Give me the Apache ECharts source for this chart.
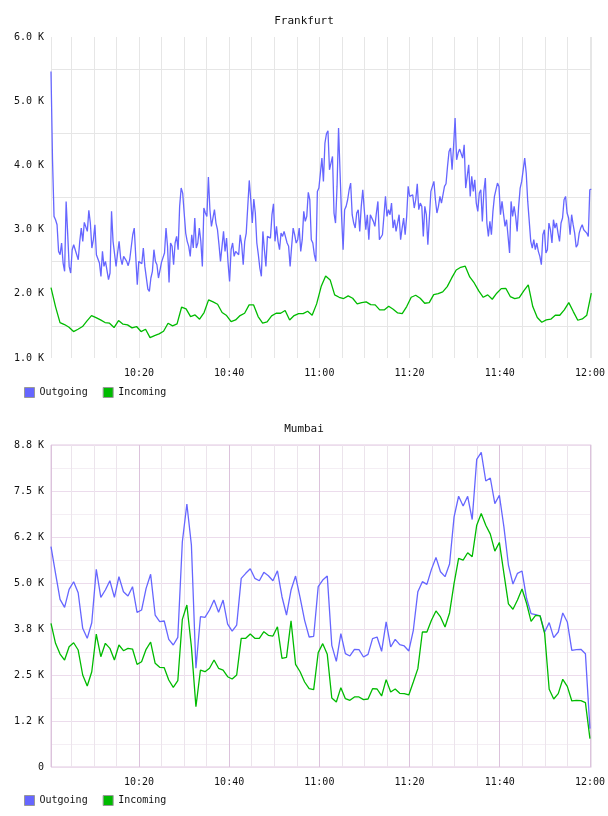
<!DOCTYPE html>
<html>
<head>
<meta charset="utf-8">
<title>Frankfurt / Mumbai traffic</title>
<script src="https://cdn.jsdelivr.net/npm/echarts@6/dist/echarts.min.js"></script>
<style>
  html, body { margin: 0; padding: 0; background: #fff; }
  #chart { width: 608px; height: 816px; }
</style>
</head>
<body>
<div id="chart"></div>
<script>
// times are minutes after 10:00
const seriesNames = ['Outgoing', 'Incoming']
const sampleStart = 0.5
const sampleEnd = 120.3

const frankfurtOutgoing = [
  5463, 4088, 3206, 3154, 3076, 2661, 2609, 2791, 2479, 2350,
  3439, 2946, 2427, 2324, 2687, 2765, 2739, 2609, 2531, 2817,
  3024, 2817, 3112, 3102, 2972, 3299, 3102, 2713, 2843, 3076,
  2609, 2609, 2479, 2272, 2661, 2427, 2505, 2479, 2220, 2324,
  3284, 2817, 2817, 2427, 2635, 2817, 2557, 2453, 2583, 2557,
  2505, 2438, 2531, 2531, 2920, 3024, 2583, 2142, 2505, 2531,
  2469, 2713, 2427, 2427, 2074, 2038, 2246, 2350, 2687, 2505,
  2453, 2246, 2365, 2490, 2505, 2635, 3024, 2739, 2178, 2791,
  2739, 2453, 2791, 2894, 2687, 3362, 3647, 3569,
  3258, 2946, 2817, 2739, 2583, 2920, 2713, 3180, 2713, 2791,
  3024, 2817, 2427, 3336, 3258, 3206, 3818, 3310, 3050, 3076,
  3310, 3102, 2998, 2765, 2505, 2505, 2972, 2661, 2868, 2479,
  2194, 2687, 2791, 2583, 2661, 2661, 2609, 2920, 2765, 2453,
  2817, 2946, 2972, 3766, 3465, 3102, 3476, 3258, 2791, 2609,
  2401, 2272, 2972, 2687, 2427, 2894, 2920, 2868, 3232, 3403,
  2817, 3050, 2817, 2687, 2946, 2894, 2972, 2946, 2791, 2739,
  2427, 2739, 3024, 2920, 2791, 2843, 3024, 2661, 2843, 3284,
  3128, 3206, 3580, 3465, 2843, 2791, 2609, 2505, 3595, 3647,
  3647, 4114,
  3751, 4348, 4493, 4540, 3932, 4036, 4140, 3258, 3102, 3673,
  4581, 3881, 3206, 2687, 3310, 3362, 3465, 3621, 3725, 3232,
  3102, 3024, 3258, 3310, 2972, 3362, 3621, 3310, 2998, 3232,
  2843, 3232, 3258, 3128, 3050, 3258, 3439, 2843, 2817, 2920,
  2946, 3517, 3206, 3310, 3232, 3413, 3024, 3154, 2972, 3102,
  3232, 2843, 3024, 3180, 2920, 3206, 3673, 3517, 3517, 3543,
  3336, 3465, 3714, 3310, 3413, 3362, 2894, 3362, 3232, 2765,
  3180, 3595, 3673, 3751, 3465, 3258, 3362, 3517, 3413, 3387,
  3673, 3714, 3984, 4218, 4270, 3932, 4296, 4737, 4088, 4192,
  4254,
  4270, 4114, 4322, 3647, 3829, 4010, 3517, 3829, 3595, 3777,
  3413, 3284, 3569, 3621, 3128, 3595, 3803, 3102, 2894, 3128,
  2920, 3284, 3517, 3517, 3725, 3673, 3232, 3439, 3413, 3050,
  3154, 2894, 2635, 3439, 3206, 3362, 3206, 2972, 3362, 3647,
  3751, 3766, 4114, 3881, 3439, 3128, 2817, 2713, 2843, 2687,
  2791, 2661, 2583, 2453, 2920, 2998, 2635, 2687, 3102, 2998,
  2791, 3154, 3024, 3102, 2946, 2817, 3102, 3180, 3465, 3517,
  3258, 3180, 2920, 3232, 3076, 2946, 2728, 2765, 2946, 3024,
  3076, 2998, 2972, 2946, 2894, 3621, 3631
]

const frankfurtIncoming = [
  2097, 1801, 1552, 1521, 1479, 1412, 1448, 1490, 1578, 1661,
  1630, 1593, 1552, 1542, 1474, 1583, 1526, 1516, 1469, 1490,
  1412, 1448, 1318, 1349, 1375, 1417, 1542, 1500, 1531, 1791,
  1765, 1645, 1671, 1604, 1708, 1905, 1874, 1837, 1708, 1661,
  1568, 1593, 1661, 1697, 1827, 1827, 1645, 1542, 1562, 1656,
  1697, 1697, 1739, 1593, 1661, 1692, 1692, 1728, 1666, 1843,
  2112, 2276, 2216, 1983, 1946, 1926, 1967, 1931, 1843, 1863,
  1874, 1832, 1827, 1749, 1749, 1806, 1760, 1702, 1692, 1801,
  1946, 1977, 1931, 1853, 1863, 1988, 2003, 2029, 2112, 2247,
  2371, 2413, 2430, 2262, 2169, 2045, 1946, 1983, 1915, 2009,
  2081, 2086, 1957, 1926, 1941, 2045, 2138, 1801, 1630, 1557,
  1593, 1604, 1666, 1666, 1749, 1863, 1723, 1588, 1609, 1666,
  2009
]

const mumbaiOutgoing = [
  5986, 5263, 4556, 4339, 4828, 5035, 4736, 3768, 3497, 3921,
  5371, 4611, 4809, 5062, 4611, 5170, 4763, 4646, 4899, 4203,
  4266, 4855, 5236, 4130, 3948, 3967, 3470, 3315, 3524, 6122,
  7146, 6032, 2682, 4084, 4067, 4266, 4537, 4203, 4537, 3885,
  3695, 3858, 5127, 5263, 5388, 5127, 5062, 5290, 5198, 5062,
  5333, 4627, 4130, 4809, 5189, 4600, 3986, 3533, 3552, 4900,
  5081, 5190, 3307, 2872, 3624, 3081, 3017, 3198, 3189, 2990,
  3062, 3488, 3533, 3144, 3941, 3262, 3470, 3325, 3289, 3153,
  3715, 4765, 5036, 4964, 5370, 5695, 5307, 5172, 5515, 6797,
  7357, 7095, 7357, 6725, 8359, 8549, 7772, 7853, 7158, 7384,
  6526, 5488, 4973, 5262, 5325, 4585, 4168, 4140, 4104, 3669,
  3923, 3515, 3669, 4186, 3941, 3171, 3189, 3198, 3080, 1042
]

const mumbaiIncoming = [
  3904, 3361, 3070, 2907, 3269, 3377, 3179, 2500, 2201, 2589,
  3614, 2997, 3361, 3225, 2907, 3315, 3160, 3225, 3206, 2790,
  2861, 3198, 3396, 2818, 2709, 2698, 2364, 2165, 2345, 4013,
  4402, 3269, 1638, 2635, 2589, 2682, 2907, 2682, 2635, 2453,
  2391, 2500, 3497, 3497, 3614, 3497, 3497, 3676, 3578, 3559,
  3812, 2953, 2981, 3975, 2790, 2589, 2310, 2129, 2102, 3108,
  3352, 3062, 1875, 1767, 2156, 1857, 1812, 1903, 1903, 1830,
  1848, 2129, 2120, 1930, 2374, 2039, 2120, 2002, 1993, 1957,
  2310, 2673, 3669, 3669, 3986, 4240, 4077, 3805, 4186, 4991,
  5668, 5623, 5822, 5713, 6571, 6887, 6571, 6327, 5867, 6102,
  5262, 4431, 4287, 4539, 4837, 4449, 3959, 4122, 4104, 3624,
  2111, 1848, 1993, 2383, 2192, 1794, 1812, 1803, 1749, 770
]

const mumbaiTickLabels = ['0', '1.2 K', '2.5 K', '3.8 K', '5.0 K', '6.2 K', '7.5 K', '8.8 K']

const outColor = '#6666ff'
const inColor = '#00bb00'
const font = 'DejaVu Sans Mono'

const toPoints = (values, t0, t1, endShort) => {
  const last = t1 - (endShort || 0)
  return values.map((v, i) => [t0 + i * (last - t0) / (values.length - 1), v])
}

const timeLabel = m => {
  const r = Math.round(m)
  if (Math.abs(m - r) > 1e-6 || r % 20 !== 0) return ''
  const h = 10 + Math.floor(r / 60)
  const mm = r % 60
  return h + ':' + (mm < 10 ? '0' : '') + mm
}

const chart = echarts.init(document.getElementById('chart'), null, { renderer: 'canvas' })

const xAxisBase = (gridIndex, splitColors) => ({
  type: 'value',
  gridIndex,
  min: 0.5,
  max: 120.3,
  minInterval: 5,
  maxInterval: 5,
  axisLine: { show: false },
  axisTick: { show: false },
  axisLabel: {
    formatter: timeLabel,
    color: '#111',
    fontFamily: font,
    fontSize: 10,
    margin: 10,
    showMinLabel: false
  },
  splitLine: { show: true, lineStyle: { color: splitColors, width: 1 } }
})

const lineSeries = (name, data, color, idx) => ({
  name,
  type: 'line',
  xAxisIndex: idx,
  yAxisIndex: idx,
  data,
  showSymbol: false,
  symbol: 'none',
  color,
  itemStyle: { color },
  lineStyle: { color, width: 1.3 },
  emphasis: { disabled: true },
  animation: false
})

const option = {
  animation: false,
  backgroundColor: '#fff',
  title: [
    { text: 'Frankfurt', left: 'center', top: 16, padding: 0,
      textStyle: { fontFamily: font, fontSize: 11, fontWeight: 'normal', color: '#111' } },
    { text: 'Mumbai', left: 'center', top: 424, padding: 0,
      textStyle: { fontFamily: font, fontSize: 11, fontWeight: 'normal', color: '#111' } }
  ],
  legend: [
    { data: seriesNames, left: 24, top: 387, padding: 0, icon: 'rect', itemWidth: 10, itemHeight: 10, itemGap: 15,
      itemStyle: { borderColor: '#999', borderWidth: 1 },
      textStyle: { fontFamily: font, fontSize: 10, color: '#111' } },
    { data: seriesNames, left: 24, top: 795, padding: 0, icon: 'rect', itemWidth: 10, itemHeight: 10, itemGap: 15,
      itemStyle: { borderColor: '#999', borderWidth: 1 },
      textStyle: { fontFamily: font, fontSize: 10, color: '#111' } }
  ],
  grid: [
    { left: 51, right: 15, top: 37, height: 321 },
    { left: 51, right: 15, top: 445, height: 322, show: true, borderColor: '#e0c8e0', borderWidth: 1 }
  ],
  xAxis: [
    xAxisBase(0, ['#e6e6e6']),
    xAxisBase(1, ['#dcc3dc', '#ece4ec', '#ece4ec', '#ece4ec'])
  ],
  yAxis: [
    {
      type: 'value', gridIndex: 0, min: 1000, max: 6000, interval: 500,
      axisLine: { show: false }, axisTick: { show: false },
      axisLabel: {
        formatter: v => (v % 1000 === 0 ? (v / 1000).toFixed(1) + ' K' : ''),
        color: '#111', fontFamily: font, fontSize: 10, margin: 7
      },
      splitLine: { lineStyle: { color: ['rgba(0,0,0,0)', '#e6e6e6'] } }
    },
    {
      type: 'value', gridIndex: 1, min: 0, max: 8750, interval: 625,
      axisLine: { show: false }, axisTick: { show: false },
      axisLabel: {
        formatter: v => (v % 1250 === 0 ? mumbaiTickLabels[v / 1250] : ''),
        color: '#111', fontFamily: font, fontSize: 10, margin: 7
      },
      splitLine: { lineStyle: { color: ['#ecdcec', '#f4eef4'] } }
    }
  ],
  series: [
    lineSeries('Outgoing', toPoints(frankfurtOutgoing, sampleStart, sampleEnd), outColor, 0),
    lineSeries('Incoming', toPoints(frankfurtIncoming, sampleStart, sampleEnd), inColor, 0),
    lineSeries('Outgoing', toPoints(mumbaiOutgoing, sampleStart, sampleEnd, 0.3), outColor, 1),
    lineSeries('Incoming', toPoints(mumbaiIncoming, sampleStart, sampleEnd, 0.3), inColor, 1)
  ]
}

chart.setOption(option)
</script>
</body>
</html>
